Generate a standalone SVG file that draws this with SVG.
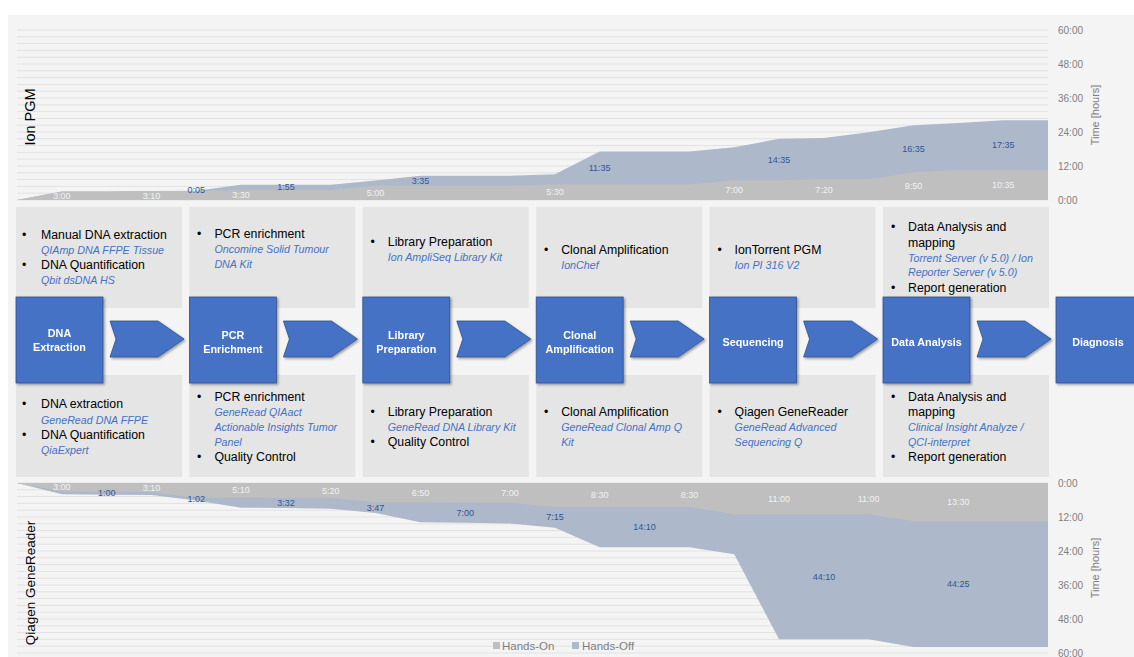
<svg xmlns="http://www.w3.org/2000/svg" width="1134" height="657" viewBox="0 0 1134 657">
<defs>
<style>
.t{font-family:"Liberation Sans",Arial,sans-serif;font-size:12.3px;fill:#000}
.i{font-family:"Liberation Sans",Arial,sans-serif;font-size:10.7px;font-style:italic;fill:#4472c4}
.bl{font-family:"Liberation Sans",Arial,sans-serif;font-size:10.8px;font-weight:bold;fill:#fff;text-anchor:middle}
.ax{font-family:"Liberation Sans",Arial,sans-serif;font-size:10px;fill:#7f7f7f}
.ttl{font-family:"Liberation Sans",Arial,sans-serif;font-size:11px;fill:#7f7f7f;text-anchor:middle}
.row{font-family:"Liberation Sans",Arial,sans-serif;font-size:13.5px;fill:#000;text-anchor:middle}
.dg{font-family:"Liberation Sans",Arial,sans-serif;font-size:9px;fill:#f2f2f2;text-anchor:middle}
.db{font-family:"Liberation Sans",Arial,sans-serif;font-size:9px;fill:#2f5597;text-anchor:middle}
.info{fill:#e5e5e5}
.node{fill:#4472c4;stroke:#2f528f;stroke-width:0.8}
.chev{fill:#4472c4;stroke:#2f528f;stroke-width:0.8}
.grid{stroke:#e2e2e2;stroke-width:1;fill:none}
.on{fill:#bfbfbf}
.off{fill:#adb9ca}
</style>
<filter id="sh" x="-10%" y="-10%" width="130%" height="130%">
<feDropShadow dx="1.5" dy="1.5" stdDeviation="1.3" flood-color="#000" flood-opacity="0.35"/>
</filter>
</defs>
<rect x="0" y="0" width="1134" height="657" fill="#ffffff"/>
<rect x="8" y="15" width="1126" height="642" fill="#f4f4f4"/>

<!-- top chart -->
<g id="chart-ion-pgm">
<path class="grid" d="M17 30H1048M17 36.8H1048M17 43.6H1048M17 50.4H1048M17 57.2H1048M17 64H1048M17 70.8H1048M17 77.6H1048M17 84.4H1048M17 91.2H1048M17 98H1048M17 104.8H1048M17 111.6H1048M17 118.4H1048M17 125.2H1048M17 132H1048M17 138.8H1048M17 145.6H1048M17 152.4H1048M17 159.2H1048M17 166H1048M17 172.8H1048M17 179.6H1048M17 186.4H1048M17 193.2H1048M17 200H1048"/>
<polygon class="off" points="17,200 61.8,191.5 106.7,191.5 151.5,191.03 196.3,190.79 241.1,184.65 286,184.65 330.8,184.65 375.6,180.4 420.4,175.68 465.3,175.68 510.1,175.68 554.9,174.26 599.7,151.6 644.6,151.6 689.4,151.6 734.2,147.35 779,138.85 823.9,137.9 868.7,132.23 913.5,125.15 958.3,123.03 1003.2,120.2 1048,120.2 1048,200"/>
<polygon class="on" points="17,200 61.8,191.5 106.7,191.5 151.5,191.03 196.3,191.03 241.1,190.08 286,190.08 330.8,190.08 375.6,185.83 420.4,185.83 465.3,185.83 510.1,185.83 554.9,184.42 599.7,184.42 644.6,184.42 689.4,184.42 734.2,180.17 779,180.17 823.9,179.22 868.7,179.22 913.5,172.14 958.3,170.01 1003.2,170.01 1048,170.01 1048,200"/>
<text class="dg" x="61.8" y="198.8">3:00</text>
<text class="dg" x="151.5" y="198.5">3:10</text>
<text class="dg" x="241.1" y="198">3:30</text>
<text class="dg" x="375.6" y="195.9">5:00</text>
<text class="dg" x="554.9" y="195.2">5:30</text>
<text class="dg" x="734.2" y="193.1">7:00</text>
<text class="dg" x="823.9" y="192.6">7:20</text>
<text class="dg" x="913.5" y="189.1">9:50</text>
<text class="dg" x="1003.2" y="188">10:35</text>
<text class="db" x="196.3" y="192.5">0:05</text>
<text class="db" x="286" y="190.4">1:55</text>
<text class="db" x="420.4" y="183.8">3:35</text>
<text class="db" x="599.7" y="171">11:35</text>
<text class="db" x="779" y="162.5">14:35</text>
<text class="db" x="913.5" y="151.6">16:35</text>
<text class="db" x="1003.2" y="148.1">17:35</text>
<text class="ax" x="1058" y="33.5">60:00</text>
<text class="ax" x="1058" y="67.5">48:00</text>
<text class="ax" x="1058" y="101.5">36:00</text>
<text class="ax" x="1058" y="135.5">24:00</text>
<text class="ax" x="1058" y="169.5">12:00</text>
<text class="ax" x="1058" y="203.5">0:00</text>
<text class="ttl" transform="translate(1099,115) rotate(-90)">Time [hours]</text>
<text class="row" transform="translate(35,117) rotate(-90)" style="font-size:14.5px">Ion PGM</text>
</g>

<!-- bottom chart -->
<g id="chart-qiagen">
<path class="grid" d="M17 483H1048M17 489.8H1048M17 496.6H1048M17 503.4H1048M17 510.2H1048M17 517H1048M17 523.8H1048M17 530.6H1048M17 537.4H1048M17 544.2H1048M17 551H1048M17 557.8H1048M17 564.6H1048M17 571.4H1048M17 578.2H1048M17 585H1048M17 591.8H1048M17 598.6H1048M17 605.4H1048M17 612.2H1048M17 619H1048M17 625.8H1048M17 632.6H1048M17 639.4H1048M17 646.2H1048M17 653H1048"/>
<polygon class="off" points="17,483 61.8,494.33 106.7,494.81 151.5,494.9 196.3,500.57 241.1,507.65 286,508.12 330.8,508.83 375.6,513.08 420.4,522.19 465.3,522.67 510.1,523.38 554.9,527.63 599.7,547.22 644.6,547.22 689.4,547.22 734.2,554.31 779,639.31 823.9,639.31 868.7,639.31 913.5,647.1 958.3,647.1 1003.2,647.1 1048,647.1 1048,483"/>
<polygon class="on" points="17,483 61.8,491.5 106.7,491.97 151.5,491.97 196.3,497.64 241.1,497.64 286,498.11 330.8,498.11 375.6,502.36 420.4,502.36 465.3,502.83 510.1,502.83 554.9,507.08 599.7,507.08 644.6,507.08 689.4,507.08 734.2,514.17 779,514.17 823.9,514.17 868.7,514.17 913.5,521.25 958.3,521.25 1003.2,521.25 1048,521.25 1048,483"/>
<text class="dg" x="61.8" y="490.3">3:00</text>
<text class="dg" x="151.5" y="490.5">3:10</text>
<text class="dg" x="241.1" y="493.3">5:10</text>
<text class="dg" x="330.8" y="493.6">5:20</text>
<text class="dg" x="420.4" y="495.7">6:50</text>
<text class="dg" x="510.1" y="495.9">7:00</text>
<text class="dg" x="599.7" y="498">8:30</text>
<text class="dg" x="689.4" y="498">8:30</text>
<text class="dg" x="779" y="501.6">11:00</text>
<text class="dg" x="868.7" y="501.6">11:00</text>
<text class="dg" x="958.3" y="505.1">13:30</text>
<text class="db" x="106.7" y="496.4">1:00</text>
<text class="db" x="196.3" y="502.1">1:02</text>
<text class="db" x="286" y="506.1">3:32</text>
<text class="db" x="375.6" y="510.7">3:47</text>
<text class="db" x="465.3" y="515.8">7:00</text>
<text class="db" x="554.9" y="520.4">7:15</text>
<text class="db" x="644.6" y="530.2">14:10</text>
<text class="db" x="823.9" y="579.7">44:10</text>
<text class="db" x="958.3" y="587.2">44:25</text>
<text class="ax" x="1058" y="486.5">0:00</text>
<text class="ax" x="1058" y="520.5">12:00</text>
<text class="ax" x="1058" y="554.5">24:00</text>
<text class="ax" x="1058" y="588.5">36:00</text>
<text class="ax" x="1058" y="622.5">48:00</text>
<text class="ax" x="1058" y="656.5">60:00</text>
<text class="ttl" transform="translate(1099,568) rotate(-90)">Time [hours]</text>
<text class="row" transform="translate(35,583) rotate(-90)">Qiagen GeneReader</text>
<g id="legend">
<rect x="493" y="642" width="7" height="7" fill="#bfbfbf"/>
<text class="ax" x="502" y="650" style="font-size:11.5px">Hands-On</text>
<rect x="572" y="642" width="7" height="7" fill="#adb9ca"/>
<text class="ax" x="582" y="650" style="font-size:11.5px">Hands-Off</text>
</g>
</g>

<!-- info boxes -->
<g id="info-dna">
<rect class="info" x="16" y="207" width="166" height="101"/>
<text class="t" x="22" y="239">•</text><text class="t" x="41" y="239">Manual DNA extraction</text>
<text class="i" x="41" y="253.7">QIAmp DNA FFPE Tissue</text>
<text class="t" x="22" y="269">•</text><text class="t" x="41" y="269">DNA Quantification</text>
<text class="i" x="41" y="283.7">Qbit dsDNA HS</text>
<rect class="info" x="16" y="375" width="166" height="102"/>
<text class="t" x="22" y="408">•</text><text class="t" x="41" y="408">DNA extraction</text>
<text class="i" x="41" y="423.7">GeneRead DNA FFPE</text>
<text class="t" x="22" y="439">•</text><text class="t" x="41" y="439">DNA Quantification</text>
<text class="i" x="41" y="453.7">QiaExpert</text>
</g>
<g id="info-pcr">
<rect class="info" x="189.4" y="207" width="166" height="101"/>
<text class="t" x="197" y="238">•</text><text class="t" x="214.4" y="238">PCR enrichment</text>
<text class="i" x="214.4" y="253.2">Oncomine Solid Tumour</text>
<text class="i" x="214.4" y="267.7">DNA Kit</text>
<rect class="info" x="189.4" y="375" width="166" height="102"/>
<text class="t" x="197" y="401">•</text><text class="t" x="214.4" y="401">PCR enrichment</text>
<text class="i" x="214.4" y="415.7">GeneRead QIAact</text>
<text class="i" x="214.4" y="430.7">Actionable Insights Tumor</text>
<text class="i" x="214.4" y="445.7">Panel</text>
<text class="t" x="197" y="461">•</text><text class="t" x="214.4" y="461">Quality Control</text>
</g>
<g id="info-library">
<rect class="info" x="362.8" y="207" width="166" height="101"/>
<text class="t" x="370.5" y="246">•</text><text class="t" x="387.8" y="246">Library Preparation</text>
<text class="i" x="387.8" y="260.7">Ion AmpliSeq Library Kit</text>
<rect class="info" x="362.8" y="375" width="166" height="102"/>
<text class="t" x="370.5" y="416">•</text><text class="t" x="387.8" y="416">Library Preparation</text>
<text class="i" x="387.8" y="430.7">GeneRead DNA Library Kit</text>
<text class="t" x="370.5" y="446">•</text><text class="t" x="387.8" y="446">Quality Control</text>
</g>
<g id="info-clonal">
<rect class="info" x="536.2" y="207" width="166" height="101"/>
<text class="t" x="544" y="254">•</text><text class="t" x="561.2" y="254">Clonal Amplification</text>
<text class="i" x="561.2" y="268.7">IonChef</text>
<rect class="info" x="536.2" y="375" width="166" height="102"/>
<text class="t" x="544" y="416">•</text><text class="t" x="561.2" y="416">Clonal Amplification</text>
<text class="i" x="561.2" y="430.7">GeneRead Clonal Amp Q</text>
<text class="i" x="561.2" y="445.7">Kit</text>
</g>
<g id="info-seq">
<rect class="info" x="709.6" y="207" width="166" height="101"/>
<text class="t" x="717.5" y="254">•</text><text class="t" x="734.6" y="254">IonTorrent PGM</text>
<text class="i" x="734.6" y="268.7">Ion PI 316 V2</text>
<rect class="info" x="709.6" y="375" width="166" height="102"/>
<text class="t" x="717.5" y="416">•</text><text class="t" x="734.6" y="416">Qiagen GeneReader</text>
<text class="i" x="734.6" y="430.7">GeneRead Advanced</text>
<text class="i" x="734.6" y="445.7">Sequencing Q</text>
</g>
<g id="info-data">
<rect class="info" x="883" y="207" width="166" height="101"/>
<text class="t" x="891" y="231">•</text><text class="t" x="908" y="231">Data Analysis and</text>
<text class="t" x="908" y="247">mapping</text>
<text class="i" x="908" y="261.7">Torrent Server (v 5.0) / Ion</text>
<text class="i" x="908" y="275.7">Reporter Server (v 5.0)</text>
<text class="t" x="891" y="292">•</text><text class="t" x="908" y="292">Report generation</text>
<rect class="info" x="883" y="375" width="166" height="102"/>
<text class="t" x="891" y="401">•</text><text class="t" x="908" y="401">Data Analysis and</text>
<text class="t" x="908" y="416">mapping</text>
<text class="i" x="908" y="430.7">Clinical Insight Analyze /</text>
<text class="i" x="908" y="445.7">QCI-interpret</text>
<text class="t" x="891" y="461">•</text><text class="t" x="908" y="461">Report generation</text>
</g>

<!-- connectors -->
<g id="connectors" filter="url(#sh)">
<polygon class="chev" points="110,321 158,321 184,339 158,357 110,357 116,339"/>
<polygon class="chev" points="283.4,321 331.4,321 357.4,339 331.4,357 283.4,357 289.4,339"/>
<polygon class="chev" points="456.8,321 504.8,321 530.8,339 504.8,357 456.8,357 462.8,339"/>
<polygon class="chev" points="630.2,321 678.2,321 704.2,339 678.2,357 630.2,357 636.2,339"/>
<polygon class="chev" points="803.6,321 851.6,321 877.6,339 851.6,357 803.6,357 809.6,339"/>
<polygon class="chev" points="977,321 1025,321 1051,339 1025,357 977,357 983,339"/>
</g>

<!-- nodes -->
<g id="node-dna" filter="url(#sh)">
<rect class="node" x="16" y="297" width="87" height="86"/>
<text class="bl" x="59.5" y="337">DNA</text>
<text class="bl" x="59.5" y="351">Extraction</text>
</g>
<g id="node-pcr" filter="url(#sh)">
<rect class="node" x="189.4" y="297" width="87" height="86"/>
<text class="bl" x="232.9" y="339">PCR</text>
<text class="bl" x="232.9" y="353">Enrichment</text>
</g>
<g id="node-library" filter="url(#sh)">
<rect class="node" x="362.8" y="297" width="87" height="86"/>
<text class="bl" x="406.3" y="339">Library</text>
<text class="bl" x="406.3" y="353">Preparation</text>
</g>
<g id="node-clonal" filter="url(#sh)">
<rect class="node" x="536.2" y="297" width="87" height="86"/>
<text class="bl" x="579.7" y="339">Clonal</text>
<text class="bl" x="579.7" y="353">Amplification</text>
</g>
<g id="node-seq" filter="url(#sh)">
<rect class="node" x="709.6" y="297" width="87" height="86"/>
<text class="bl" x="753.1" y="346">Sequencing</text>
</g>
<g id="node-data" filter="url(#sh)">
<rect class="node" x="883" y="297" width="87" height="86"/>
<text class="bl" x="926.5" y="346">Data Analysis</text>
</g>
<g id="node-diagnosis" filter="url(#sh)">
<rect class="node" x="1056" y="297" width="87" height="86"/>
<text class="bl" x="1098" y="346">Diagnosis</text>
</g>
</svg>
